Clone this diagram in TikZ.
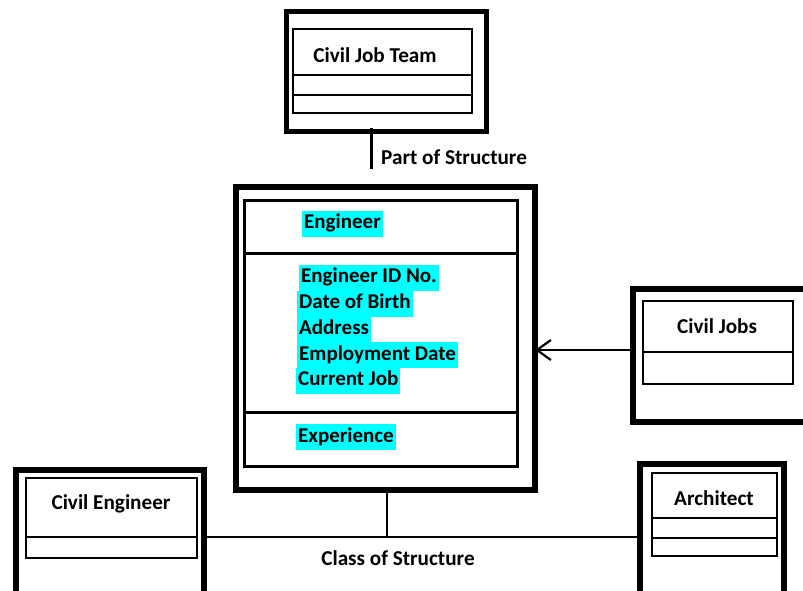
\documentclass[tikz,border=0pt]{standalone}
\usepackage{fontspec}
\setmainfont{Carlito}
\usetikzlibrary{arrows.meta}
\definecolor{hlcyan}{RGB}{0,255,255}
\begin{document}
\begin{tikzpicture}[x=1pt,y=-1pt,
  frame/.style={draw=black,line width=6pt,inner sep=0pt,outer sep=0pt},
  comp/.style={draw=black,line width=1.6pt,inner sep=0pt,outer sep=0pt},
  bigcomp/.style={draw=black,line width=3pt,inner sep=0pt,outer sep=0pt},
  lbl/.style={font=\bfseries\fontsize{21.2}{26}\selectfont,inner sep=0pt},
  hl/.style={font=\bfseries\fontsize{21}{26}\selectfont,fill=hlcyan,inner xsep=2pt,inner ysep=0pt,
    text height=18pt,text depth=8pt,anchor=west},
  conn/.style={draw=black,line width=2pt}]
\useasboundingbox (0,0) rectangle (803,590);
\begin{scope}
\clip (0,0) rectangle (803,590);
% Civil Job Team
\node[frame,line width=5pt,minimum width=200pt,minimum height=120pt] (teamF) at (386,71) {};
\node[comp,minimum width=179pt,minimum height=46pt] (teamA) at (382.5,52) {};
\node[comp,minimum width=179pt,minimum height=20pt] (teamB) at (382.5,85) {};
\node[comp,minimum width=179pt,minimum height=18pt] (teamC) at (382.5,104) {};
\node[lbl] (teamT) at (375,55) {Civil Job Team};
% Engineer
\node[frame,line width=6.5pt,minimum width=299pt,minimum height=303pt] (engF) at (385.5,338.5) {};
\node[bigcomp,minimum width=273pt,minimum height=53pt] (engA) at (380.5,226.5) {};
\node[bigcomp,minimum width=273pt,minimum height=159pt] (engB) at (380.5,332.5) {};
\node[bigcomp,minimum width=273pt,minimum height=54pt] (engC) at (380.5,439) {};
\node[hl] (engT) at (302,223.5) {Engineer};
\node[hl] (a1) at (299,277.5) {Engineer ID No. };
\node[hl] (a2) at (297,303.5) {Date of Birth };
\node[hl] (a3) at (297,329) {Address };
\node[hl] (a4) at (297,355) {Employment Date};
\node[hl] (a5) at (296,380.5) {Current Job};
\node[hl] (a6) at (296,437) {Experience};
% Civil Jobs
\node[frame,minimum width=182pt,minimum height=133pt] (jobsF) at (724,355.5) {};
\node[comp,minimum width=150pt,minimum height=51pt] (jobsA) at (718,326.5) {};
\node[comp,minimum width=150pt,minimum height=32pt] (jobsB) at (718,368) {};
\node[lbl] (jobsT) at (717,326) {Civil Jobs};
% Civil Engineer
\node[frame,minimum width=188pt,minimum height=130pt] (ceF) at (110,535) {};
\node[comp,minimum width=171pt,minimum height=59pt] (ceA) at (111.5,507.5) {};
\node[comp,minimum width=171pt,minimum height=21pt] (ceB) at (111.5,547.5) {};
\node[lbl] (ceT) at (111,504) {Civil Engineer};
% Architect
\node[frame,minimum width=144pt,minimum height=136pt] (arF) at (712,532) {};
\node[comp,minimum width=125pt,minimum height=45pt] (arA) at (714.5,495.5) {};
\node[comp,minimum width=125pt,minimum height=20pt] (arB) at (714.5,528) {};
\node[comp,minimum width=125pt,minimum height=18pt] (arC) at (714.5,547) {};
\node[lbl] (arT) at (714,498) {Architect};
% Connectors
\coordinate (partEnd) at (371,169);
\draw[conn,line width=3pt] (teamF.south -| partEnd) ++(0,-3) -- (partEnd);
\node[lbl,anchor=west] (partL) at (381,157) {Part of Structure};
\draw[conn,-{Straight Barb[length=14pt,width=20pt,line width=2.2pt]}] (jobsF.west |- 0,350) -- (engF.east |- 0,350);
\coordinate (cls) at (387,537);
\draw[conn] (engF.south -| cls) -- (cls);
\draw[conn] (ceF.east |- cls) -- (arF.west |- cls);
\node[lbl] (clsL) at (398,558) {Class of Structure};
\end{scope}
\end{tikzpicture}
\end{document}
